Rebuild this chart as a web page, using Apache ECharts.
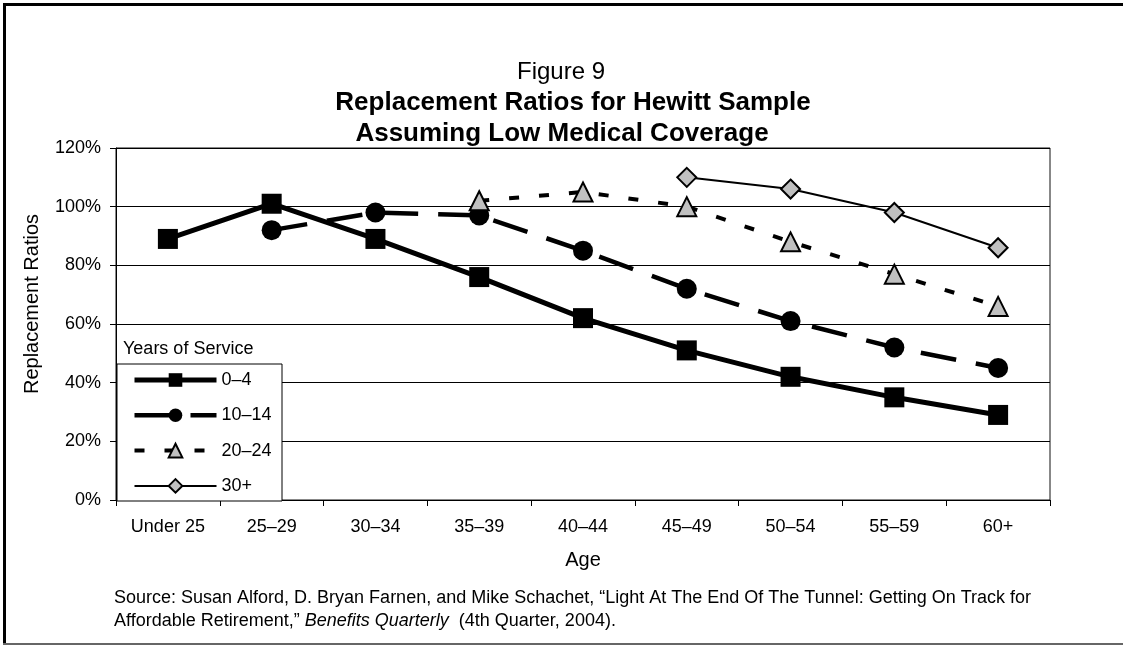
<!DOCTYPE html>
<html>
<head>
<meta charset="utf-8">
<script src="https://cdn.jsdelivr.net/npm/echarts@6/dist/echarts.min.js"></script>
<style>
  html, body { margin: 0; padding: 0; background: #fff; }
  #chart { width: 1123px; height: 645px; }
</style>
</head>
<body>
<div id="chart"></div>
<script>
// Age groups along the x axis
const ageGroups = ['Under 25', '25–29', '30–34', '35–39', '40–44', '45–49', '50–54', '55–59', '60+'];

// Replacement ratios (%) by years of service
const service0to4   = [89, 101, 89, 76, 62, 51, 42, 35, 29];
const service10to14 = [null, 92, 98, 97, 85, 72, 61, 52, 45];
const service20to24 = [null, null, null, 102, 105, 100, 88, 77, 66];
const service30plus = [null, null, null, null, null, 110, 106, 98, 86];

const seriesNames = ['0–4', '10–14', '20–24', '30+'];

// Y axis range (percent)
const yMin = 0, yMax = 120, yStep = 20;

const FONT = '"Liberation Sans", Arial, Helvetica, sans-serif';
const GREY = '#c0c0c0';

const chart = echarts.init(document.getElementById('chart'), null, { renderer: 'canvas' });

const option = {
  backgroundColor: '#ffffff',
  animation: false,
  textStyle: { fontFamily: FONT, color: '#000' },
  grid: {
    left: 116, right: 73, top: 148, bottom: 145,
    show: true, borderColor: '#111', borderWidth: 1, backgroundColor: 'transparent',
    containLabel: false, outerBoundsMode: 'none'
  },
  xAxis: {
    type: 'category',
    data: ageGroups,
    boundaryGap: true,
    axisLine: { show: true, lineStyle: { color: '#000', width: 1 } },
    axisTick: { show: true, inside: false, length: 6, lineStyle: { color: '#000' } },
    axisLabel: { color: '#000', fontSize: 18, fontFamily: FONT, margin: 18, interval: 0 },
    splitLine: { show: false }
  },
  yAxis: {
    type: 'value',
    min: yMin, max: yMax, interval: yStep,
    axisLine: { show: true, lineStyle: { color: '#000', width: 1 } },
    axisTick: { show: true, inside: false, length: 6, lineStyle: { color: '#000' } },
    axisLabel: { color: '#000', fontSize: 18, fontFamily: FONT, margin: 15, formatter: '{value}%' },
    splitLine: { show: true, lineStyle: { color: '#000', width: 1 } }
  },
  legend: {
    orient: 'vertical',
    left: 132, top: 371,
    padding: 0,
    itemWidth: 82, itemHeight: 17, itemGap: 17.3,
    z: 10,
    textStyle: { fontSize: 18, fontFamily: FONT, color: '#000', lineHeight: 17 },
    data: [
      { name: seriesNames[0], lineStyle: { width: 5 } },
      { name: seriesNames[1], lineStyle: { width: 4.5 } },
      { name: seriesNames[2], lineStyle: { width: 4 } },
      { name: seriesNames[3], lineStyle: { width: 2 } }
    ]
  },
  series: [
    {
      name: seriesNames[0], type: 'line', data: service0to4,
      symbol: 'rect', symbolSize: 20,
      lineStyle: { color: '#000', width: 5, type: 'solid' },
      itemStyle: { color: '#000', borderColor: '#000', borderWidth: 0 }
    },
    {
      name: seriesNames[1], type: 'line', data: service10to14,
      symbol: 'circle', symbolSize: 20,
      lineStyle: { color: '#000', width: 4.5, type: [36, 20] },
      itemStyle: { color: '#000', borderColor: '#000', borderWidth: 0 }
    },
    {
      name: seriesNames[2], type: 'line', data: service20to24,
      symbol: 'triangle', symbolSize: [19, 19],
      lineStyle: { color: '#000', width: 4, type: [10, 20] },
      itemStyle: { color: GREY, borderColor: '#000', borderWidth: 2 }
    },
    {
      name: seriesNames[3], type: 'line', data: service30plus,
      symbol: 'diamond', symbolSize: [19, 19],
      lineStyle: { color: '#000', width: 2, type: 'solid' },
      itemStyle: { color: GREY, borderColor: '#000', borderWidth: 2 }
    }
  ],
  graphic: [
    // page frame
    { type: 'rect', shape: { x: 3, y: 3, width: 1120, height: 3 }, style: { fill: '#000' }, silent: true },
    { type: 'rect', shape: { x: 3, y: 3, width: 3, height: 640 }, style: { fill: '#000' }, silent: true },
    { type: 'rect', shape: { x: 3, y: 643, width: 1120, height: 2 }, style: { fill: '#666' }, silent: true },
    // titles
    { type: 'text', x: 561, y: 72, style: { text: 'Figure 9', font: '24px ' + FONT, fill: '#000', align: 'center', verticalAlign: 'middle' } },
    { type: 'text', x: 573, y: 103, style: { text: 'Replacement Ratios for Hewitt Sample', font: 'bold 26px ' + FONT, fill: '#000', align: 'center', verticalAlign: 'middle' } },
    { type: 'text', x: 562, y: 134, style: { text: 'Assuming Low Medical Coverage', font: 'bold 26px ' + FONT, fill: '#000', align: 'center', verticalAlign: 'middle' } },
    // axis titles
    { type: 'text', x: 32, y: 304, rotation: Math.PI / 2, style: { text: 'Replacement Ratios', font: '20px ' + FONT, fill: '#000', align: 'center', verticalAlign: 'middle' } },
    { type: 'text', x: 583, y: 560, style: { text: 'Age', font: '20px ' + FONT, fill: '#000', align: 'center', verticalAlign: 'middle' } },
    // legend box and heading
    { type: 'rect', z: 5, shape: { x: 117, y: 364, width: 165, height: 137 }, style: { fill: '#fff', stroke: '#000', lineWidth: 1 } },
    { type: 'text', z: 6, x: 123, y: 349, style: { text: 'Years of Service', font: '18px ' + FONT, fill: '#000', align: 'left', verticalAlign: 'middle' } },
    // source note
    { type: 'text', x: 114, y: 598, style: { text: 'Source: Susan Alford, D. Bryan Farnen, and Mike Schachet, \u201CLight At The End Of The Tunnel: Getting On Track for', font: '18px ' + FONT, fill: '#000', align: 'left', verticalAlign: 'middle' } },
    { type: 'text', x: 114, y: 621, style: {
        text: 'Affordable Retirement,\u201D {i|Benefits Quarterly}  (4th Quarter, 2004).',
        font: '18px ' + FONT, fill: '#000', align: 'left', verticalAlign: 'middle',
        rich: { i: { fontStyle: 'italic', fontSize: 18, fontFamily: FONT, fill: '#000' } }
      } }
  ]
};

chart.setOption(option);
</script>
</body>
</html>
